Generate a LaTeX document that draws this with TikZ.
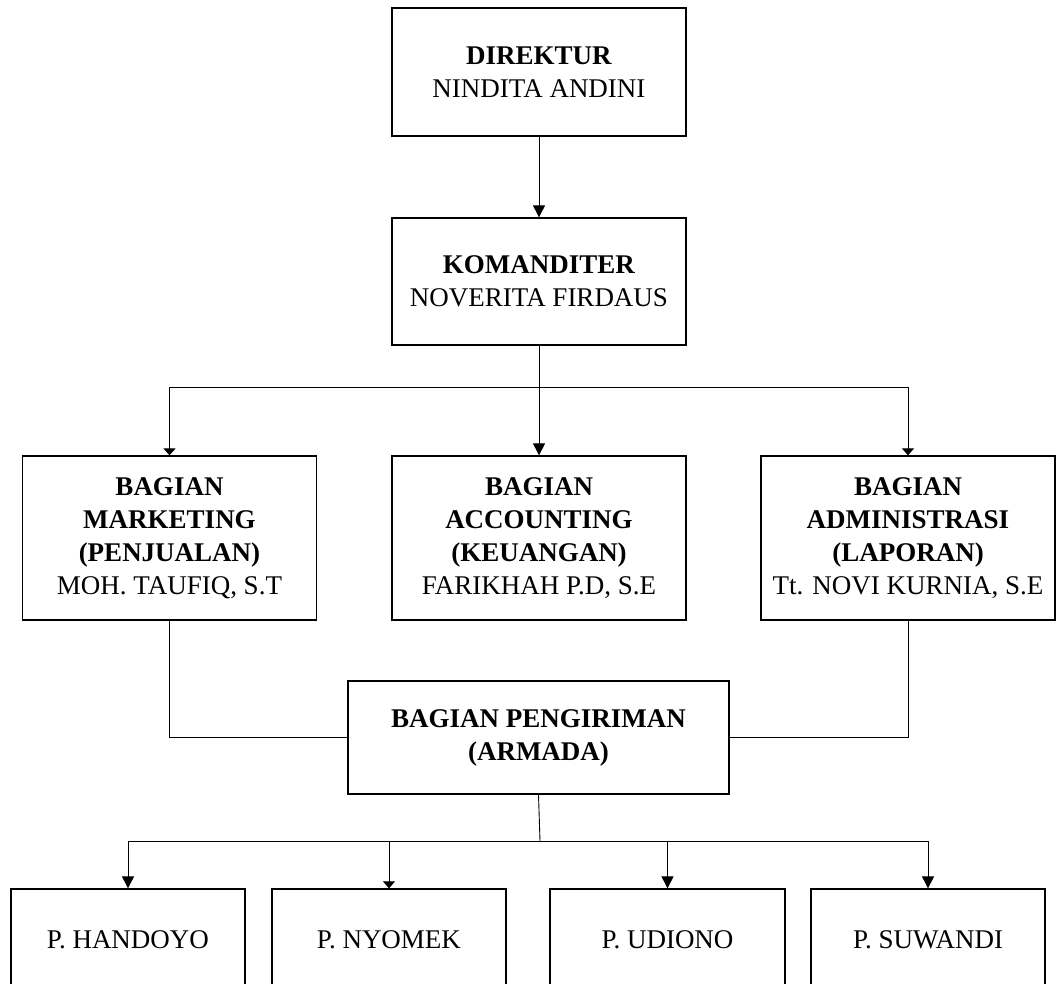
\documentclass[tikz,border=0pt]{standalone}
\usepackage{fontspec}
\setmainfont{Liberation Serif}
\usetikzlibrary{arrows.meta}
\tikzset{
  box/.style={draw, line width=1.3pt, rectangle, align=center, inner sep=0pt,
    font=\fontsize{27}{33}\selectfont},
  conn/.style={line width=0.9pt},
  arr/.style={conn, -{Triangle[width=12pt,length=12pt]}},
  flatarr/.style={conn, -{Triangle[width=12pt,length=7pt]}}
}
\begin{document}
\begin{tikzpicture}[x=1pt,y=-1pt]
\clip (0,0) rectangle (1059,983);
\fill[white] (0,0) rectangle (1059,983);
\node[box, minimum width=294pt, minimum height=128pt] (dir) at (539,72) {\textbf{DIREKTUR}\\NINDITA ANDINI};
\node[box, minimum width=294pt, minimum height=127pt] (kom) at (539,281.5) {\textbf{KOMANDITER}\\NOVERITA FIRDAUS};
\node[box, minimum width=294pt, minimum height=164pt] (mkt) at (169.5,538) {\textbf{BAGIAN}\\\textbf{MARKETING}\\\textbf{(PENJUALAN)}\\MOH. TAUFIQ, S.T};
\node[box, minimum width=294pt, minimum height=164pt] (acc) at (539,538) {\textbf{BAGIAN}\\\textbf{ACCOUNTING}\\\textbf{(KEUANGAN)}\\FARIKHAH P.D, S.E};
\node[box, minimum width=294pt, minimum height=164pt] (adm) at (908,538) {\textbf{BAGIAN}\\\textbf{ADMINISTRASI}\\\textbf{(LAPORAN)}\\Tt. NOVI KURNIA, S.E};
\node[box, minimum width=381pt, minimum height=113pt] (pgr) at (538.5,737.5) {\textbf{BAGIAN PENGIRIMAN}\\\textbf{(ARMADA)}};
\node[box, minimum width=234pt, minimum height=102pt] (h1) at (128,940) {P. HANDOYO};
\node[box, minimum width=234pt, minimum height=102pt] (h2) at (389,940) {P. NYOMEK};
\node[box, minimum width=235pt, minimum height=102pt] (h3) at (667.5,940) {P. UDIONO};
\node[box, minimum width=234pt, minimum height=102pt] (h4) at (928,940) {P. SUWANDI};
\coordinate (j1) at (539,387);
\coordinate (j2) at (540,841);
\draw[arr] (dir.south) -- (kom.north);
\draw[conn] (kom.south) -- (j1);
\draw[arr] (j1) -- (acc.north);
\draw[flatarr] (j1) -| (mkt.north);
\draw[flatarr] (j1) -| (adm.north);
\draw[conn] (mkt.south) |- (pgr.west);
\draw[conn] (adm.south) |- (pgr.east);
\draw[conn] (pgr.south) -- (j2);
\draw[arr] (j2) -| (h1.north);
\draw[flatarr] (j2) -| (h2.north);
\draw[arr] (j2) -| (h3.north);
\draw[arr] (j2) -| (h4.north);
\end{tikzpicture}
\end{document}
